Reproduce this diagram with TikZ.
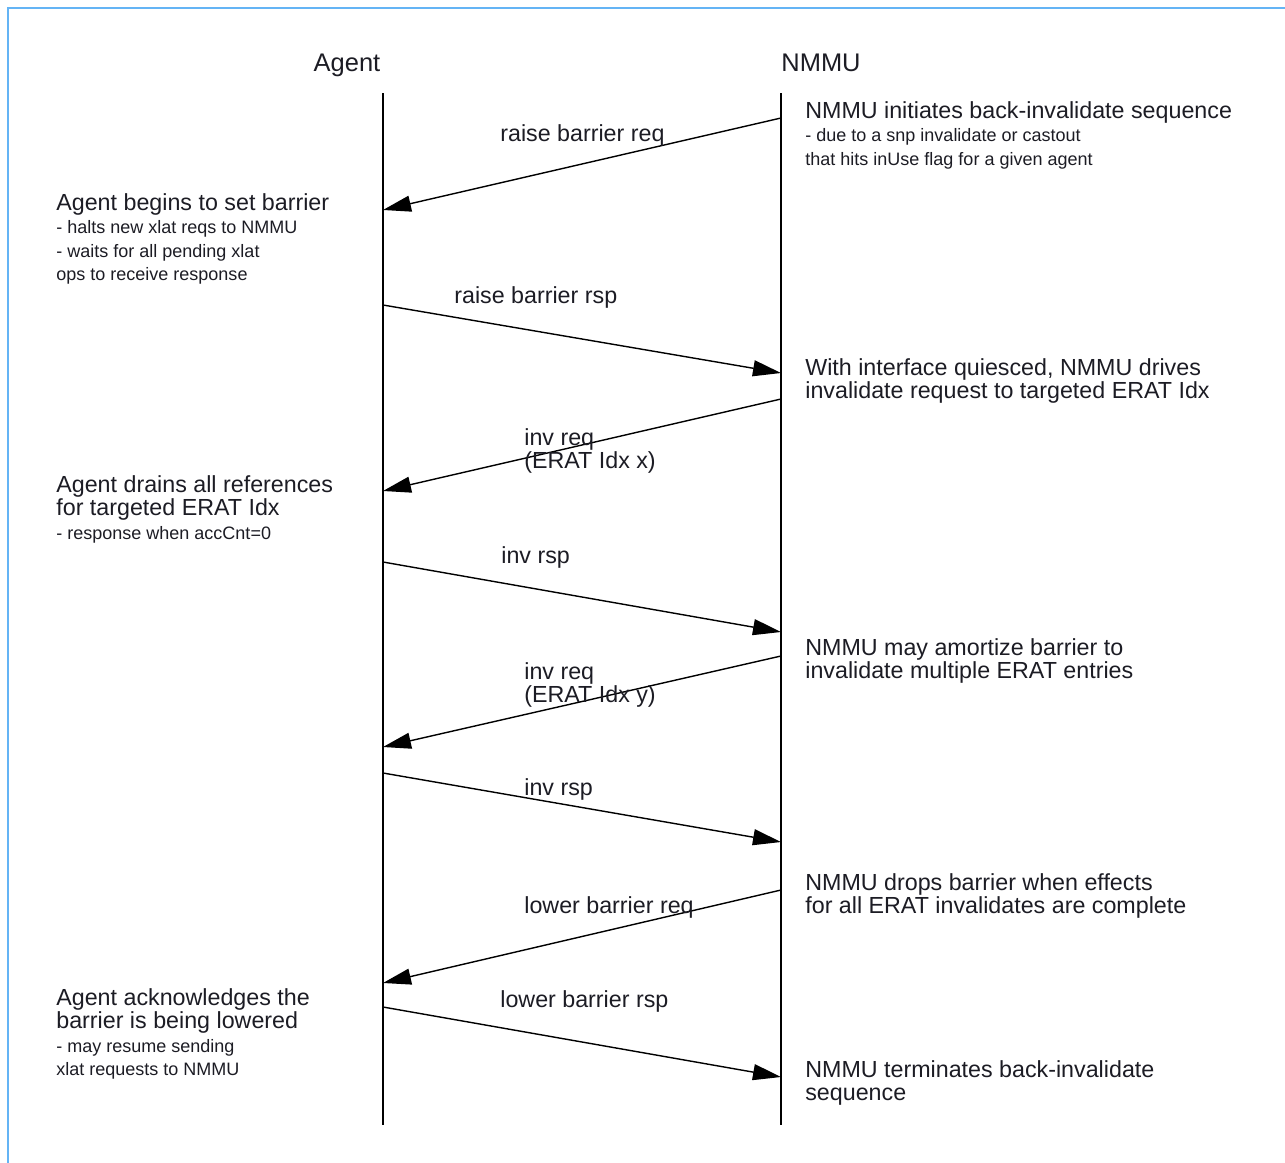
\documentclass[tikz,border=0pt]{standalone}
\usepackage{fontspec}
\setmainfont{Liberation Sans}
\usepackage{tikz}
\usetikzlibrary{arrows.meta,positioning}
\definecolor{clFrame}{HTML}{64B4F5}
\definecolor{clText}{HTML}{1C1C24}
\newcommand{\subnote}{\fontsize{10.25}{13.4}\selectfont}
\tikzset{
  actor/.style={inner sep=0pt, anchor=base, text=clText,
                font=\fontsize{14.5}{17}\selectfont},
  lifeline/.style={draw=black, line width=0.8pt},
  note/.style={inner sep=0pt, anchor=north west, align=left, text=clText,
               font=\fontsize{13.24}{13.4}\selectfont},
  msglabel/.style={inner sep=0pt, anchor=base west, text=clText,
                   font=\fontsize{13.24}{13.4}\selectfont},
  msg/.style={-{Triangle[length=0.56cm, width=0.32cm]}, line width=0.8pt, draw=black},
  frame/.style={draw=clFrame, line width=1.1pt},
}
\begin{document}
\begin{tikzpicture}[x=0.02cm, y=-0.02cm]
  \useasboundingbox (0,0) rectangle (1285,1163);
  \draw[frame] (8,1163) -- (8,8) -- (1285,8);

  % lifelines
  \node[actor] (agent) at (347,71) {Agent};
  \node[actor] (nmmu) at (821,71) {NMMU};
  \coordinate (agentTop) at (383,93);
  \coordinate (agentEnd) at (383,1125);
  \coordinate (nmmuTop) at (781,93);
  \coordinate (nmmuEnd) at (781,1125);
  \draw[lifeline] (agentTop) -- (agentEnd);
  \draw[lifeline] (nmmuTop) -- (nmmuEnd);

  \foreach \nm/\yy in {a1/210, a2/305, a3/491, a4/562, a5/747, a6/773, a7/983, a8/1007}
    \coordinate (\nm) at (383,\yy);
  \foreach \nm/\yy in {n1/118, n2/373, n3/399, n4/632, n5/656, n6/842, n7/890, n8/1077}
    \coordinate (\nm) at (781,\yy);

  % messages
  \draw[msg] (n1) -- (a1);
  \draw[msg] (a2) -- (n2);
  \draw[msg] (n3) -- (a3);
  \draw[msg] (a4) -- (n4);
  \draw[msg] (n5) -- (a5);
  \draw[msg] (a6) -- (n6);
  \draw[msg] (n7) -- (a7);
  \draw[msg] (a8) -- (n8);

  \node[msglabel] (raiseReq) at (500,141) {raise barrier req};
  \node[msglabel] (raiseRsp) at (454,303) {raise barrier rsp};
  \node[note] (invReqX) at (524,428) {inv req\\(ERAT Idx x)};
  \node[msglabel] (invRspX) at (501,563) {inv rsp};
  \node[note] (invReqY) at (524,662) {inv req\\(ERAT Idx y)};
  \node[msglabel] (invRspY) at (524,795) {inv rsp};
  \node[msglabel] (lowerReq) at (524,913) {lower barrier req};
  \node[msglabel] (lowerRsp) at (500,1007) {lower barrier rsp};

  % NMMU side
  \node[note] (nmmuStart) at (805,101) {NMMU initiates back-invalidate sequence\\
    \subnote - due to a snp invalidate or castout\\
    \subnote that hits inUse flag for a given agent};
  \node[note] (nmmuDrive) at (805,358) {With interface quiesced, NMMU drives\\
    invalidate request to targeted ERAT Idx};
  \node[note] (nmmuMulti) at (805,638) {NMMU may amortize barrier to\\
    invalidate multiple ERAT entries};
  \node[note] (nmmuDrop) at (805,873) {NMMU drops barrier when effects\\
    for all ERAT invalidates are complete};
  \node[note] (nmmuDone) at (805,1060) {NMMU terminates back-invalidate\\
    sequence};

  % Agent side
  \node[note] (agentSet) at (56,193) {Agent begins to set barrier\\
    \subnote - halts new xlat reqs to NMMU\\
    \subnote - waits for all pending xlat\\
    \subnote ops to receive response};
  \node[note] (agentDrain) at (56,475) {Agent drains all references\\
    for targeted ERAT Idx\\
    \subnote - response when accCnt=0};
  \node[note] (agentAck) at (56,988) {Agent acknowledges the\\
    barrier is being lowered\\
    \subnote - may resume sending\\
    \subnote xlat requests to NMMU};
\end{tikzpicture}
\end{document}
